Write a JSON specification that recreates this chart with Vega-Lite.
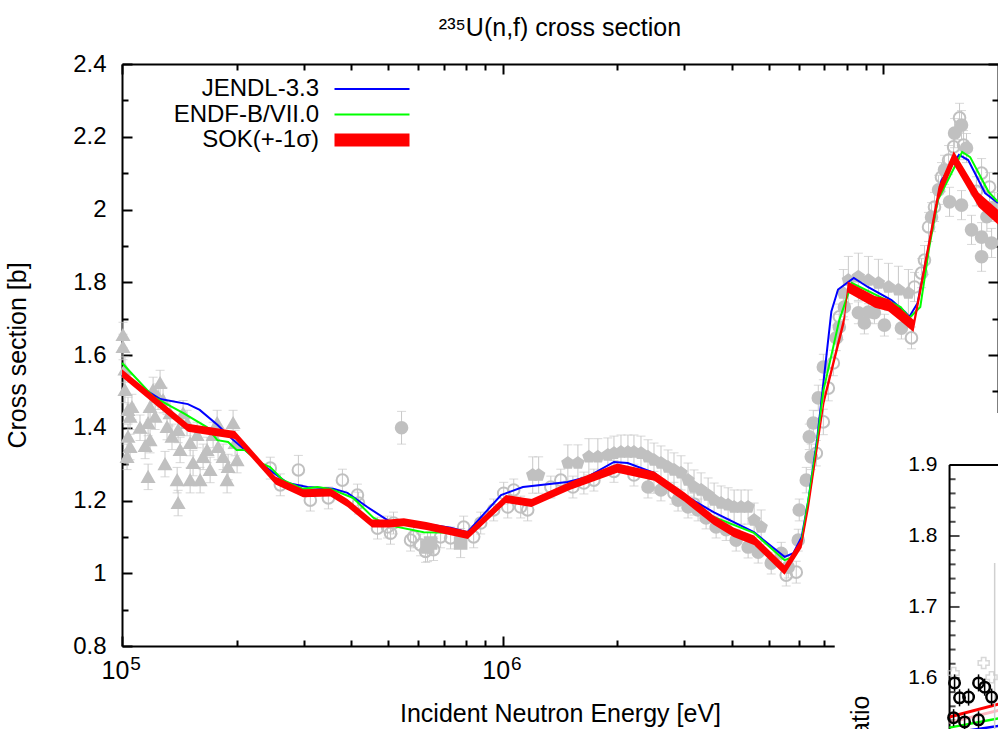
{
"$schema": "https://vega.github.io/schema/vega-lite/v6.json",
"width": 876, "height": 582,
"autosize": {"type": "none"},
"padding": {"left": 122, "top": 64, "right": 0, "bottom": 83},
"background": "white",
"title": {"text": "²³⁵U(n,f) cross section", "fontSize": 25, "fontWeight": "normal", "font": "Liberation Sans", "color": "black", "offset": 11, "anchor": "middle"},
"config": {
  "view": {"stroke": null},
  "font": "Liberation Sans",
  "axis": {"domainColor": "black", "domainWidth": 2, "tickColor": "black", "tickWidth": 2, "labelFont": "Liberation Sans", "labelFontSize": 24, "labelColor": "black", "titleFont": "Liberation Sans", "titleFontSize": 25, "titleFontWeight": "normal", "titleColor": "black", "grid": false, "labelFlush": false, "labelOverlap": false}
},
"datasets": {
"exp": [
{"e":1.006e5,"y":1.655,"lo":1.62,"hi":1.69,"g":"tri"},
{"e":1.006e5,"y":1.622,"lo":1.587,"hi":1.657,"g":"tri"},
{"e":1.018e5,"y":1.504,"lo":1.469,"hi":1.539,"g":"tri"},
{"e":1.037e5,"y":1.449,"lo":1.414,"hi":1.484,"g":"tri"},
{"e":1.05e5,"y":1.43,"lo":1.395,"hi":1.465,"g":"tri"},
{"e":1.062e5,"y":1.457,"lo":1.422,"hi":1.492,"g":"tri"},
{"e":1.037e5,"y":1.375,"lo":1.34,"hi":1.41,"g":"tri"},
{"e":1.05e5,"y":1.347,"lo":1.312,"hi":1.382,"g":"tri"},
{"e":1.031e5,"y":1.32,"lo":1.285,"hi":1.355,"g":"tri"},
{"e":1.018e5,"y":1.56,"lo":1.525,"hi":1.595,"g":"tri"},
{"e":1.185e5,"y":1.457,"lo":1.422,"hi":1.492,"g":"tri"},
{"e":1.207e5,"y":1.504,"lo":1.469,"hi":1.539,"g":"tri"},
{"e":1.259e5,"y":1.523,"lo":1.488,"hi":1.558,"g":"tri"},
{"e":1.244e5,"y":1.485,"lo":1.45,"hi":1.52,"g":"tri"},
{"e":1.171e5,"y":1.413,"lo":1.378,"hi":1.448,"g":"tri"},
{"e":1.185e5,"y":1.366,"lo":1.331,"hi":1.401,"g":"tri"},
{"e":1.171e5,"y":1.265,"lo":1.23,"hi":1.3,"g":"tri"},
{"e":1.222e5,"y":1.43,"lo":1.395,"hi":1.465,"g":"tri"},
{"e":1.282e5,"y":1.476,"lo":1.441,"hi":1.511,"g":"tri"},
{"e":1.313e5,"y":1.402,"lo":1.367,"hi":1.437,"g":"tri"},
{"e":1.353e5,"y":1.375,"lo":1.34,"hi":1.41,"g":"tri"},
{"e":1.404e5,"y":1.394,"lo":1.359,"hi":1.429,"g":"tri"},
{"e":1.396e5,"y":1.256,"lo":1.221,"hi":1.291,"g":"tri"},
{"e":1.404e5,"y":1.193,"lo":1.158,"hi":1.228,"g":"tri"},
{"e":1.421e5,"y":1.339,"lo":1.304,"hi":1.374,"g":"tri"},
{"e":1.482e5,"y":1.413,"lo":1.378,"hi":1.448,"g":"tri"},
{"e":1.51e5,"y":1.358,"lo":1.323,"hi":1.393,"g":"tri"},
{"e":1.51e5,"y":1.256,"lo":1.221,"hi":1.291,"g":"tri"},
{"e":1.537e5,"y":1.303,"lo":1.268,"hi":1.338,"g":"tri"},
{"e":1.604e5,"y":1.256,"lo":1.221,"hi":1.291,"g":"tri"},
{"e":1.633e5,"y":1.32,"lo":1.285,"hi":1.355,"g":"tri"},
{"e":1.673e5,"y":1.339,"lo":1.304,"hi":1.374,"g":"tri"},
{"e":1.704e5,"y":1.284,"lo":1.249,"hi":1.319,"g":"tri"},
{"e":1.778e5,"y":1.413,"lo":1.378,"hi":1.448,"g":"tri"},
{"e":1.788e5,"y":1.347,"lo":1.312,"hi":1.382,"g":"tri"},
{"e":1.843e5,"y":1.32,"lo":1.285,"hi":1.355,"g":"tri"},
{"e":1.888e5,"y":1.256,"lo":1.221,"hi":1.291,"g":"tri"},
{"e":1.9e5,"y":1.292,"lo":1.257,"hi":1.327,"g":"tri"},
{"e":1.958e5,"y":1.413,"lo":1.378,"hi":1.448,"g":"tri"},
{"e":1.982e5,"y":1.358,"lo":1.323,"hi":1.393,"g":"tri"},
{"e":2.006e5,"y":1.311,"lo":1.276,"hi":1.346,"g":"tri"},
{"e":1.115e5,"y":1.4,"lo":1.365,"hi":1.435,"g":"tri"},
{"e":1.15e5,"y":1.35,"lo":1.315,"hi":1.385,"g":"tri"},
{"e":1.297e5,"y":1.3,"lo":1.265,"hi":1.335,"g":"tri"},
{"e":1.337e5,"y":1.44,"lo":1.405,"hi":1.475,"g":"tri"},
{"e":1.447e5,"y":1.44,"lo":1.405,"hi":1.475,"g":"tri"},
{"e":1.575e5,"y":1.38,"lo":1.345,"hi":1.415,"g":"tri"},
{"e":1.735e5,"y":1.38,"lo":1.345,"hi":1.415,"g":"tri"},
{"e":2.452e5,"y":1.289,"lo":1.259,"hi":1.319,"g":"open"},
{"e":2.605e5,"y":1.243,"lo":1.213,"hi":1.273,"g":"open"},
{"e":2.906e5,"y":1.284,"lo":1.244,"hi":1.324,"g":"open"},
{"e":3.124e5,"y":1.201,"lo":1.171,"hi":1.231,"g":"open"},
{"e":3.484e5,"y":1.207,"lo":1.177,"hi":1.237,"g":"open"},
{"e":3.793e5,"y":1.256,"lo":1.226,"hi":1.286,"g":"open"},
{"e":4.154e5,"y":1.215,"lo":1.185,"hi":1.245,"g":"open"},
{"e":4.18e5,"y":1.193,"lo":1.163,"hi":1.223,"g":"open"},
{"e":4.69e5,"y":1.124,"lo":1.094,"hi":1.154,"g":"open"},
{"e":4.983e5,"y":1.127,"lo":1.097,"hi":1.157,"g":"open"},
{"e":5.074e5,"y":1.11,"lo":1.08,"hi":1.14,"g":"open"},
{"e":5.167e5,"y":1.138,"lo":1.108,"hi":1.168,"g":"open"},
{"e":5.424e5,"y":1.4,"lo":1.355,"hi":1.445,"g":"circ"},
{"e":5.728e5,"y":1.091,"lo":1.061,"hi":1.121,"g":"open"},
{"e":5.833e5,"y":1.1,"lo":1.07,"hi":1.13,"g":"open"},
{"e":6.085e5,"y":1.078,"lo":1.048,"hi":1.108,"g":"open"},
{"e":6.272e5,"y":1.06,"lo":1.03,"hi":1.09,"g":"open"},
{"e":6.348e5,"y":1.072,"lo":1.032,"hi":1.112,"g":"sq"},
{"e":6.465e5,"y":1.083,"lo":1.053,"hi":1.113,"g":"sq"},
{"e":6.583e5,"y":1.065,"lo":1.035,"hi":1.095,"g":"open"},
{"e":6.869e5,"y":1.1,"lo":1.07,"hi":1.13,"g":"open"},
{"e":7.297e5,"y":1.097,"lo":1.067,"hi":1.127,"g":"open"},
{"e":7.754e5,"y":1.083,"lo":1.043,"hi":1.123,"g":"sq"},
{"e":7.896e5,"y":1.127,"lo":1.097,"hi":1.157,"g":"open"},
{"e":8.389e5,"y":1.1,"lo":1.07,"hi":1.13,"g":"open"},
{"e":8.754e5,"y":1.138,"lo":1.108,"hi":1.168,"g":"open"},
{"e":9.469e5,"y":1.174,"lo":1.144,"hi":1.204,"g":"open"},
{"e":1.006e6,"y":1.22,"lo":1.19,"hi":1.25,"g":"open"},
{"e":1.031e6,"y":1.182,"lo":1.152,"hi":1.212,"g":"open"},
{"e":1.069e6,"y":1.229,"lo":1.199,"hi":1.259,"g":"open"},
{"e":1.115e6,"y":1.182,"lo":1.152,"hi":1.212,"g":"open"},
{"e":1.163e6,"y":1.174,"lo":1.144,"hi":1.204,"g":"open"},
{"e":1.199e6,"y":1.27,"lo":1.22,"hi":1.32,"g":"pent"},
{"e":1.243e6,"y":1.27,"lo":1.22,"hi":1.32,"g":"pent"},
{"e":1.338e6,"y":1.237,"lo":1.207,"hi":1.267,"g":"open"},
{"e":1.421e6,"y":1.256,"lo":1.226,"hi":1.286,"g":"open"},
{"e":1.483e6,"y":1.303,"lo":1.253,"hi":1.353,"g":"pent"},
{"e":1.576e6,"y":1.303,"lo":1.253,"hi":1.353,"g":"pent"},
{"e":1.529e6,"y":1.237,"lo":1.207,"hi":1.267,"g":"open"},
{"e":1.684e6,"y":1.32,"lo":1.27,"hi":1.37,"g":"pent"},
{"e":1.778e6,"y":1.32,"lo":1.27,"hi":1.37,"g":"pent"},
{"e":1.634e6,"y":1.248,"lo":1.218,"hi":1.278,"g":"open"},
{"e":1.736e6,"y":1.256,"lo":1.226,"hi":1.286,"g":"open"},
{"e":1.889e6,"y":1.325,"lo":1.278,"hi":1.372,"g":"pent"},
{"e":1.96e6,"y":1.33,"lo":1.283,"hi":1.377,"g":"pent"},
{"e":2.045e6,"y":1.333,"lo":1.286,"hi":1.38,"g":"pent"},
{"e":2.133e6,"y":1.333,"lo":1.286,"hi":1.38,"g":"pent"},
{"e":2.212e6,"y":1.333,"lo":1.286,"hi":1.38,"g":"pent"},
{"e":2.308e6,"y":1.33,"lo":1.283,"hi":1.377,"g":"pent"},
{"e":2.408e6,"y":1.32,"lo":1.273,"hi":1.367,"g":"pent"},
{"e":2.497e6,"y":1.311,"lo":1.264,"hi":1.358,"g":"pent"},
{"e":2.605e6,"y":1.303,"lo":1.256,"hi":1.35,"g":"pent"},
{"e":2.718e6,"y":1.292,"lo":1.245,"hi":1.339,"g":"pent"},
{"e":2.818e6,"y":1.284,"lo":1.237,"hi":1.331,"g":"pent"},
{"e":2.941e6,"y":1.276,"lo":1.229,"hi":1.323,"g":"pent"},
{"e":3.068e6,"y":1.256,"lo":1.209,"hi":1.303,"g":"pent"},
{"e":3.181e6,"y":1.237,"lo":1.19,"hi":1.284,"g":"pent"},
{"e":3.32e6,"y":1.229,"lo":1.182,"hi":1.276,"g":"pent"},
{"e":3.464e6,"y":1.215,"lo":1.168,"hi":1.262,"g":"pent"},
{"e":3.592e6,"y":1.201,"lo":1.154,"hi":1.248,"g":"pent"},
{"e":3.748e6,"y":1.193,"lo":1.146,"hi":1.24,"g":"pent"},
{"e":3.91e6,"y":1.188,"lo":1.141,"hi":1.235,"g":"pent"},
{"e":4.054e6,"y":1.182,"lo":1.135,"hi":1.229,"g":"pent"},
{"e":4.229e6,"y":1.182,"lo":1.135,"hi":1.229,"g":"pent"},
{"e":4.412e6,"y":1.182,"lo":1.135,"hi":1.229,"g":"pent"},
{"e":4.576e6,"y":1.146,"lo":1.099,"hi":1.193,"g":"pent"},
{"e":4.775e6,"y":1.127,"lo":1.08,"hi":1.174,"g":"pent"},
{"e":2.408e6,"y":1.237,"lo":1.207,"hi":1.267,"g":"circ"},
{"e":2.605e6,"y":1.229,"lo":1.199,"hi":1.259,"g":"circ"},
{"e":2.888e6,"y":1.201,"lo":1.171,"hi":1.231,"g":"circ"},
{"e":3.068e6,"y":1.182,"lo":1.152,"hi":1.212,"g":"circ"},
{"e":3.26e6,"y":1.174,"lo":1.144,"hi":1.204,"g":"circ"},
{"e":3.422e6,"y":1.152,"lo":1.122,"hi":1.182,"g":"circ"},
{"e":3.636e6,"y":1.127,"lo":1.097,"hi":1.157,"g":"circ"},
{"e":3.863e6,"y":1.12,"lo":1.09,"hi":1.15,"g":"circ"},
{"e":4.104e6,"y":1.091,"lo":1.061,"hi":1.121,"g":"circ"},
{"e":4.412e6,"y":1.072,"lo":1.042,"hi":1.102,"g":"circ"},
{"e":4.689e6,"y":1.058,"lo":1.028,"hi":1.088,"g":"circ"},
{"e":5.074e6,"y":1.028,"lo":0.998,"hi":1.058,"g":"circ"},
{"e":5.391e6,"y":1.055,"lo":1.025,"hi":1.085,"g":"circ"},
{"e":5.623e6,"y":1.017,"lo":0.987,"hi":1.047,"g":"circ"},
{"e":5.975e6,"y":1.091,"lo":1.061,"hi":1.121,"g":"circ"},
{"e":6.011e6,"y":1.174,"lo":1.144,"hi":1.204,"g":"circ"},
{"e":5.903e6,"y":1.003,"lo":0.973,"hi":1.033,"g":"open"},
{"e":5.556e6,"y":0.995,"lo":0.965,"hi":1.025,"g":"open"},
{"e":1.96e6,"y":1.28,"lo":1.25,"hi":1.31,"g":"open"},
{"e":2.212e6,"y":1.27,"lo":1.24,"hi":1.3,"g":"open"},
{"e":2.497e6,"y":1.25,"lo":1.22,"hi":1.28,"g":"open"},
{"e":2.818e6,"y":1.22,"lo":1.19,"hi":1.25,"g":"open"},
{"e":3.181e6,"y":1.19,"lo":1.16,"hi":1.22,"g":"open"},
{"e":6.272e6,"y":1.256,"lo":1.221,"hi":1.291,"g":"circ"},
{"e":6.465e6,"y":1.32,"lo":1.285,"hi":1.355,"g":"circ"},
{"e":6.664e6,"y":1.33,"lo":1.295,"hi":1.365,"g":"open"},
{"e":6.387e6,"y":1.375,"lo":1.34,"hi":1.41,"g":"circ"},
{"e":6.544e6,"y":1.413,"lo":1.378,"hi":1.448,"g":"circ"},
{"e":6.953e6,"y":1.416,"lo":1.381,"hi":1.451,"g":"open"},
{"e":6.745e6,"y":1.482,"lo":1.447,"hi":1.517,"g":"circ"},
{"e":7.167e6,"y":1.509,"lo":1.474,"hi":1.544,"g":"open"},
{"e":6.953e6,"y":1.567,"lo":1.532,"hi":1.602,"g":"circ"},
{"e":7.387e6,"y":1.578,"lo":1.543,"hi":1.613,"g":"open"},
{"e":7.522e6,"y":1.647,"lo":1.612,"hi":1.682,"g":"circ"},
{"e":7.66e6,"y":1.677,"lo":1.642,"hi":1.712,"g":"circ"},
{"e":7.66e6,"y":1.705,"lo":1.67,"hi":1.74,"g":"open"},
{"e":7.896e6,"y":1.732,"lo":1.697,"hi":1.767,"g":"circ"},
{"e":7.848e6,"y":1.77,"lo":1.705,"hi":1.835,"g":"pent"},
{"e":8.09e6,"y":1.806,"lo":1.741,"hi":1.871,"g":"pent"},
{"e":8.595e6,"y":1.815,"lo":1.75,"hi":1.88,"g":"pent"},
{"e":9.132e6,"y":1.806,"lo":1.741,"hi":1.871,"g":"pent"},
{"e":9.701e6,"y":1.798,"lo":1.733,"hi":1.863,"g":"pent"},
{"e":1.031e7,"y":1.787,"lo":1.722,"hi":1.852,"g":"pent"},
{"e":1.095e7,"y":1.779,"lo":1.714,"hi":1.844,"g":"pent"},
{"e":1.163e7,"y":1.77,"lo":1.705,"hi":1.835,"g":"pent"},
{"e":1.207e7,"y":1.787,"lo":1.747,"hi":1.827,"g":"open"},
{"e":1.259e7,"y":1.825,"lo":1.785,"hi":1.865,"g":"open"},
{"e":1.282e7,"y":1.861,"lo":1.821,"hi":1.901,"g":"open"},
{"e":8.595e6,"y":1.716,"lo":1.686,"hi":1.746,"g":"circ"},
{"e":8.913e6,"y":1.688,"lo":1.658,"hi":1.718,"g":"circ"},
{"e":9.132e6,"y":1.718,"lo":1.688,"hi":1.748,"g":"circ"},
{"e":9.469e6,"y":1.716,"lo":1.686,"hi":1.746,"g":"circ"},
{"e":1.006e7,"y":1.682,"lo":1.652,"hi":1.712,"g":"circ"},
{"e":1.115e7,"y":1.674,"lo":1.644,"hi":1.704,"g":"circ"},
{"e":1.185e7,"y":1.647,"lo":1.617,"hi":1.677,"g":"open"},
{"e":1.314e7,"y":1.952,"lo":1.912,"hi":1.992,"g":"open"},
{"e":1.338e7,"y":1.979,"lo":1.939,"hi":2.019,"g":"circ"},
{"e":1.362e7,"y":2.007,"lo":1.967,"hi":2.047,"g":"open"},
{"e":1.396e7,"y":2.054,"lo":2.014,"hi":2.094,"g":"circ"},
{"e":1.421e7,"y":2.089,"lo":2.049,"hi":2.129,"g":"open"},
{"e":1.447e7,"y":2.109,"lo":2.069,"hi":2.149,"g":"circ"},
{"e":1.483e7,"y":2.136,"lo":2.096,"hi":2.176,"g":"open"},
{"e":1.529e7,"y":2.172,"lo":2.132,"hi":2.212,"g":"open"},
{"e":1.538e7,"y":2.21,"lo":2.17,"hi":2.25,"g":"circ"},
{"e":1.585e7,"y":2.252,"lo":2.212,"hi":2.292,"g":"open"},
{"e":1.604e7,"y":2.232,"lo":2.192,"hi":2.272,"g":"circ"},
{"e":1.624e7,"y":2.177,"lo":2.137,"hi":2.217,"g":"open"},
{"e":1.653e7,"y":2.169,"lo":2.129,"hi":2.209,"g":"circ"},
{"e":1.492e7,"y":2.021,"lo":1.981,"hi":2.061,"g":"circ"},
{"e":1.604e7,"y":2.012,"lo":1.972,"hi":2.052,"g":"circ"},
{"e":1.704e7,"y":1.944,"lo":1.904,"hi":1.984,"g":"circ"},
{"e":1.811e7,"y":1.924,"lo":1.884,"hi":1.964,"g":"circ"},
{"e":1.811e7,"y":1.87,"lo":1.83,"hi":1.91,"g":"circ"},
{"e":1.924e7,"y":1.908,"lo":1.868,"hi":1.948,"g":"circ"},
{"e":1.9e7,"y":2.062,"lo":2.022,"hi":2.102,"g":"open"},
{"e":1.811e7,"y":2.1,"lo":2.06,"hi":2.14,"g":"open"},
{"e":1.96e7,"y":2.007,"lo":1.967,"hi":2.047,"g":"circ"},
{"e":1.755e7,"y":2.05,"lo":2.01,"hi":2.09,"g":"open"},
{"e":1.87e7,"y":1.98,"lo":1.94,"hi":2.02,"g":"circ"}
],
"lines": [
{"s":"JENDL-3.3","e":1e5,"y":1.545},{"s":"JENDL-3.3","e":1.26e5,"y":1.479},{"s":"JENDL-3.3","e":1.49e5,"y":1.465},{"s":"JENDL-3.3","e":1.6e5,"y":1.449},{"s":"JENDL-3.3","e":1.78e5,"y":1.408},{"s":"JENDL-3.3","e":1.96e5,"y":1.366},{"s":"JENDL-3.3","e":2.31e5,"y":1.303},{"s":"JENDL-3.3","e":2.72e5,"y":1.248},{"s":"JENDL-3.3","e":3.07e5,"y":1.237},{"s":"JENDL-3.3","e":3.59e5,"y":1.232},{"s":"JENDL-3.3","e":3.91e5,"y":1.221},{"s":"JENDL-3.3","e":4.41e5,"y":1.182},{"s":"JENDL-3.3","e":4.98e5,"y":1.146},{"s":"JENDL-3.3","e":5.17e5,"y":1.138},{"s":"JENDL-3.3","e":6.47e5,"y":1.133},{"s":"JENDL-3.3","e":7.3e5,"y":1.125},{"s":"JENDL-3.3","e":8.08e5,"y":1.113},{"s":"JENDL-3.3","e":9.9e5,"y":1.215},{"s":"JENDL-3.3","e":1.13e6,"y":1.237},{"s":"JENDL-3.3","e":1.48e6,"y":1.251},{"s":"JENDL-3.3","e":1.67e6,"y":1.265},{"s":"JENDL-3.3","e":1.96e6,"y":1.306},{"s":"JENDL-3.3","e":2.13e6,"y":1.303},{"s":"JENDL-3.3","e":2.5e6,"y":1.276},{"s":"JENDL-3.3","e":2.94e6,"y":1.22},{"s":"JENDL-3.3","e":3.58e6,"y":1.168},{"s":"JENDL-3.3","e":4.57e6,"y":1.113},{"s":"JENDL-3.3","e":5.5e6,"y":1.045},{"s":"JENDL-3.3","e":5.8e6,"y":1.055},{"s":"JENDL-3.3","e":6.1e6,"y":1.1},{"s":"JENDL-3.3","e":6.35e6,"y":1.2},{"s":"JENDL-3.3","e":6.7e6,"y":1.37},{"s":"JENDL-3.3","e":6.95e6,"y":1.52},{"s":"JENDL-3.3","e":7.3e6,"y":1.72},{"s":"JENDL-3.3","e":7.6e6,"y":1.78},{"s":"JENDL-3.3","e":8.36e6,"y":1.812},{"s":"JENDL-3.3","e":9.1e6,"y":1.787},{"s":"JENDL-3.3","e":1.05e7,"y":1.751},{"s":"JENDL-3.3","e":1.14e7,"y":1.718},{"s":"JENDL-3.3","e":1.17e7,"y":1.705},{"s":"JENDL-3.3","e":1.23e7,"y":1.743},{"s":"JENDL-3.3","e":1.33e7,"y":1.924},{"s":"JENDL-3.3","e":1.42e7,"y":2.08},{"s":"JENDL-3.3","e":1.58e7,"y":2.15},{"s":"JENDL-3.3","e":1.67e7,"y":2.136},{"s":"JENDL-3.3","e":1.85e7,"y":2.045},{"s":"JENDL-3.3","e":2e7,"y":2.018},
{"s":"ENDF-B/VII.0","e":1e5,"y":1.578},{"s":"ENDF-B/VII.0","e":1.21e5,"y":1.485},{"s":"ENDF-B/VII.0","e":1.45e5,"y":1.44},{"s":"ENDF-B/VII.0","e":1.67e5,"y":1.402},{"s":"ENDF-B/VII.0","e":1.78e5,"y":1.366},{"s":"ENDF-B/VII.0","e":1.9e5,"y":1.361},{"s":"ENDF-B/VII.0","e":2e5,"y":1.339},{"s":"ENDF-B/VII.0","e":2.1e5,"y":1.339},{"s":"ENDF-B/VII.0","e":2.31e5,"y":1.303},{"s":"ENDF-B/VII.0","e":2.45e5,"y":1.292},{"s":"ENDF-B/VII.0","e":2.65e5,"y":1.256},{"s":"ENDF-B/VII.0","e":2.99e5,"y":1.232},{"s":"ENDF-B/VII.0","e":3.26e5,"y":1.237},{"s":"ENDF-B/VII.0","e":3.53e5,"y":1.232},{"s":"ENDF-B/VII.0","e":4.05e5,"y":1.207},{"s":"ENDF-B/VII.0","e":4.58e5,"y":1.152},{"s":"ENDF-B/VII.0","e":4.98e5,"y":1.133},{"s":"ENDF-B/VII.0","e":6.2e5,"y":1.113},{"s":"ENDF-B/VII.0","e":8.1e5,"y":1.111},{"s":"ENDF-B/VII.0","e":1e6,"y":1.196},{"s":"ENDF-B/VII.0","e":1.21e6,"y":1.201},{"s":"ENDF-B/VII.0","e":1.6e6,"y":1.248},{"s":"ENDF-B/VII.0","e":2e6,"y":1.284},{"s":"ENDF-B/VII.0","e":2.5e6,"y":1.265},{"s":"ENDF-B/VII.0","e":2.94e6,"y":1.21},{"s":"ENDF-B/VII.0","e":3.58e6,"y":1.155},{"s":"ENDF-B/VII.0","e":4.57e6,"y":1.111},{"s":"ENDF-B/VII.0","e":5.5e6,"y":1.036},{"s":"ENDF-B/VII.0","e":5.8e6,"y":1.045},{"s":"ENDF-B/VII.0","e":6.1e6,"y":1.09},{"s":"ENDF-B/VII.0","e":6.35e6,"y":1.2},{"s":"ENDF-B/VII.0","e":6.7e6,"y":1.36},{"s":"ENDF-B/VII.0","e":6.95e6,"y":1.5},{"s":"ENDF-B/VII.0","e":7.66e6,"y":1.696},{"s":"ENDF-B/VII.0","e":8.26e6,"y":1.798},{"s":"ENDF-B/VII.0","e":9.8e6,"y":1.76},{"s":"ENDF-B/VII.0","e":1.11e7,"y":1.732},{"s":"ENDF-B/VII.0","e":1.17e7,"y":1.702},{"s":"ENDF-B/VII.0","e":1.25e7,"y":1.732},{"s":"ENDF-B/VII.0","e":1.32e7,"y":1.897},{"s":"ENDF-B/VII.0","e":1.39e7,"y":2.026},{"s":"ENDF-B/VII.0","e":1.61e7,"y":2.158},{"s":"ENDF-B/VII.0","e":1.69e7,"y":2.144},{"s":"ENDF-B/VII.0","e":1.89e7,"y":2.048},{"s":"ENDF-B/VII.0","e":2e7,"y":2.021}
],
"sok": [
{"e":1e5,"lo":1.539,"hi":1.561},{"e":1.49e5,"lo":1.389,"hi":1.411},{"e":1.98e5,"lo":1.369,"hi":1.391},{"e":2.53e5,"lo":1.244,"hi":1.266},{"e":2.99e5,"lo":1.209,"hi":1.231},{"e":3.53e5,"lo":1.211,"hi":1.233},{"e":3.91e5,"lo":1.182,"hi":1.204},{"e":4.54e5,"lo":1.126,"hi":1.148},{"e":5.01e5,"lo":1.126,"hi":1.148},{"e":5.5e5,"lo":1.129,"hi":1.151},{"e":6.3e5,"lo":1.119,"hi":1.141},{"e":8.1e5,"lo":1.094,"hi":1.116},{"e":1.02e6,"lo":1.193,"hi":1.215},{"e":1.19e6,"lo":1.182,"hi":1.204},{"e":1.5e6,"lo":1.229,"hi":1.251},{"e":2e6,"lo":1.276,"hi":1.302},{"e":2.5e6,"lo":1.254,"hi":1.28},{"e":3e6,"lo":1.197,"hi":1.223},{"e":3.58e6,"lo":1.133,"hi":1.159},{"e":4.04e6,"lo":1.1,"hi":1.126},{"e":4.57e6,"lo":1.078,"hi":1.104},{"e":5.5e6,"lo":0.996,"hi":1.022},{"e":6.1e6,"lo":1.07,"hi":1.096},{"e":6.37e6,"lo":1.177,"hi":1.203},{"e":7e6,"lo":1.467,"hi":1.493},{"e":7.9e6,"lo":1.686,"hi":1.714},{"e":8.06e6,"lo":1.772,"hi":1.802},{"e":9.5e6,"lo":1.73,"hi":1.762},{"e":1.03e7,"lo":1.72,"hi":1.754},{"e":1.11e7,"lo":1.693,"hi":1.727},{"e":1.2e7,"lo":1.663,"hi":1.697},{"e":1.396e7,"lo":2.027,"hi":2.063},{"e":1.53e7,"lo":2.124,"hi":2.16},{"e":1.78e7,"lo":2.006,"hi":2.046},{"e":2e7,"lo":1.959,"hi":1.999}
],
"insetTicks": [
{"v":1.9,"k":"M"},{"v":1.88,"k":"m"},{"v":1.86,"k":"m"},{"v":1.84,"k":"m"},{"v":1.82,"k":"m"},{"v":1.8,"k":"M"},{"v":1.78,"k":"m"},{"v":1.76,"k":"m"},{"v":1.74,"k":"m"},{"v":1.72,"k":"m"},{"v":1.7,"k":"M"},{"v":1.68,"k":"m"},{"v":1.66,"k":"m"},{"v":1.64,"k":"m"},{"v":1.62,"k":"m"},{"v":1.6,"k":"M"},{"v":1.58,"k":"m"},{"v":1.56,"k":"m"},{"v":1.54,"k":"m"},{"v":1.52,"k":"m"}
],
"insetLines": [
{"s":"SOK","e":1.49e7,"v":1.545},{"s":"SOK","e":2.1e7,"v":1.566},
{"s":"pink","e":1.49e7,"v":1.537},{"s":"pink","e":2.1e7,"v":1.557},
{"s":"ENDF","e":1.49e7,"v":1.53},{"s":"ENDF","e":2.1e7,"v":1.545},
{"s":"JENDL","e":1.49e7,"v":1.522},{"s":"JENDL","e":2.1e7,"v":1.534}
],
"insetPts": [
{"e":1.538e7,"v":1.593,"lo":1.581,"hi":1.605},{"e":1.778e7,"v":1.593,"lo":1.581,"hi":1.605},{"e":1.845e7,"v":1.587,"lo":1.575,"hi":1.599},{"e":1.924e7,"v":1.573,"lo":1.561,"hi":1.585},{"e":1.585e7,"v":1.572,"lo":1.56,"hi":1.584},{"e":1.674e7,"v":1.573,"lo":1.561,"hi":1.585},{"e":1.529e7,"v":1.544,"lo":1.532,"hi":1.556},{"e":1.778e7,"v":1.541,"lo":1.529,"hi":1.553},{"e":1.634e7,"v":1.538,"lo":1.526,"hi":1.55}
],
"insetCross": [
{"e":1.834e7,"v":1.621},{"e":1.924e7,"v":1.601},{"e":1.529e7,"v":1.607}
]
},
"layer": [
{
 "layer": [
  {"data": {"name": "exp"},
   "mark": {"type": "rule", "color": "#c8c8c8", "strokeWidth": 1},
   "encoding": {
    "x": {"field": "e", "type": "quantitative", "scale": {"type": "log", "domain": [100000, 20000000], "nice": false},
      "axis": {"orient": "bottom", "values": [100000,200000,300000,400000,500000,600000,700000,800000,900000,1000000,2000000,3000000,4000000,5000000,6000000,7000000,8000000,9000000,10000000],
        "labelExpr": "abs(log(datum.value)/LN10 - round(log(datum.value)/LN10)) < 0.001 ? '10' : ''",
        "labelFontSize": 25, "labelOffset": -7,
        "tickSize": {"condition": {"test": "abs(log(datum.value)/LN10 - round(log(datum.value)/LN10)) < 0.001", "value": -10}, "value": -6},
        "labelPadding": 22, "title": "Incident Neutron Energy [eV]", "titlePadding": 14}},
    "y": {"field": "lo", "type": "quantitative", "scale": {"domain": [0.8, 2.4], "nice": false, "zero": false},
      "axis": {"orient": "left", "values": [0.8,0.9,1,1.1,1.2,1.3,1.4,1.5,1.6,1.7,1.8,1.9,2,2.1,2.2,2.3,2.4],
        "labelExpr": "round(datum.value*10) % 2 == 0 ? format(datum.value, '~g') : ''",
        "tickSize": {"condition": {"test": "round(datum.value*10) % 2 == 0", "value": -10}, "value": -6},
        "labelPadding": 26, "title": "Cross section [b]", "titlePadding": 42}},
    "y2": {"field": "hi"}
   }},
  {"data": {"name": "exp"},
   "mark": {"type": "tick", "orient": "horizontal", "size": 9, "thickness": 1, "color": "#c8c8c8"},
   "encoding": {"x": {"field": "e", "type": "quantitative", "axis": null}, "y": {"field": "hi", "type": "quantitative", "axis": null}}},
  {"data": {"name": "exp"},
   "mark": {"type": "tick", "orient": "horizontal", "size": 9, "thickness": 1, "color": "#c8c8c8"},
   "encoding": {"x": {"field": "e", "type": "quantitative", "axis": null}, "y": {"field": "lo", "type": "quantitative", "axis": null}}},
  {"data": {"name": "exp"},
   "mark": {"type": "point", "size": 135, "strokeWidth": 2, "opacity": 1},
   "encoding": {
    "x": {"field": "e", "type": "quantitative", "axis": null},
    "y": {"field": "y", "type": "quantitative", "axis": null},
    "shape": {"field": "g", "type": "nominal", "legend": null, "scale": {"domain": ["tri","circ","open","pent","sq"], "range": ["triangle-up","circle","circle","M0,-1L0.951,-0.309L0.588,0.809L-0.588,0.809L-0.951,-0.309Z","square"]}},
    "fill": {"condition": {"test": "datum.g === 'open'", "value": "transparent"}, "value": "#c0c0c0"},
    "stroke": {"value": "#c0c0c0"}
   }},
  {"data": {"name": "lines"},
   "mark": {"type": "line", "strokeWidth": 2},
   "encoding": {
    "x": {"field": "e", "type": "quantitative", "axis": {"orient": "top", "values": [100000,200000,300000,400000,500000,600000,700000,800000,900000,1000000,2000000,3000000,4000000,5000000,6000000,7000000,8000000,9000000,10000000], "labels": false, "title": null,
        "tickSize": {"condition": {"test": "abs(log(datum.value)/LN10 - round(log(datum.value)/LN10)) < 0.001", "value": -10}, "value": -6}}},
    "y": {"field": "y", "type": "quantitative", "axis": {"orient": "right", "values": [0.8,0.9,1,1.1,1.2,1.3,1.4,1.5,1.6,1.7,1.8,1.9,2,2.1,2.2,2.3,2.4], "labels": false, "title": null,
        "tickSize": {"condition": {"test": "round(datum.value*10) % 2 == 0", "value": -10}, "value": -6}}},
    "color": {"field": "s", "type": "nominal",
      "scale": {"domain": ["JENDL-3.3", "ENDF-B/VII.0", "SOK(+-1σ)"], "range": ["#0000ff", "#00ff00", "#ff0000"]},
      "legend": {"orient": "none", "legendX": 238, "legendY": 13, "title": null, "padding": 0,
        "labelFontSize": 24, "labelFont": "Liberation Sans", "labelColor": "black", "labelAlign": "right", "labelOffset": -65,
        "symbolType": "M-6.25,-0.17H6.25V0.17H-6.25Z", "symbolSize": 144, "symbolOffset": 0, "symbolStrokeWidth": 0, "rowPadding": 1.5,
        "encode": {"symbols": {"update": {
          "shape": {"signal": "datum.value === 'SOK(+-1σ)' ? 'M-6.25,-1.08H6.25V1.08H-6.25Z' : 'M-6.25,-0.17H6.25V0.17H-6.25Z'"},
          "fill": {"scale": "color", "field": "value"}, "stroke": {"value": "transparent"}, "strokeWidth": {"value": 0}, "opacity": {"value": 1}}}}}}
   }},
  {"data": {"name": "sok"},
   "mark": {"type": "area", "color": "#ff0000", "opacity": 1},
   "encoding": {
    "x": {"field": "e", "type": "quantitative", "axis": {"orient": "bottom", "values": [100000, 1000000, 10000000], "labelExpr": "format(round(log(datum.value)/LN10), 'd')", "labelFontSize": 19, "labelOffset": 13, "labelPadding": 8, "ticks": false, "domain": false, "title": null}},
    "y": {"field": "lo", "type": "quantitative", "axis": null}, "y2": {"field": "hi"}}},
  {"data": {"values": [{}]},
   "mark": {"type": "rect", "color": "white", "opacity": 1, "clip": false},
   "encoding": {"x": {"datum": 7450000, "type": "quantitative", "axis": null}, "x2": {"datum": 1000000000}, "y": {"datum": 1.4406, "type": "quantitative", "axis": null}, "y2": {"datum": 0.3}}}
 ],
 "resolve": {"axis": {"x": "independent", "y": "independent"}}
},
{
 "layer": [
  {"data": {"values": [{}]},
   "mark": {"type": "rule", "color": "black", "strokeWidth": 2, "clip": false},
   "encoding": {"x": {"datum": 14920000, "type": "quantitative", "axis": null}, "y": {"datum": 1.9, "type": "quantitative", "scale": {"domain": [1.645, 2.465], "nice": false, "zero": false}, "axis": null}, "y2": {"datum": 1.2}}},
  {"data": {"values": [{}]},
   "mark": {"type": "rule", "color": "black", "strokeWidth": 2, "clip": false},
   "encoding": {"x": {"datum": 14920000, "type": "quantitative", "axis": null}, "x2": {"datum": 100000000}, "y": {"datum": 1.9, "type": "quantitative", "axis": null}}},
  {"data": {"name": "insetTicks"}, "transform": [{"filter": "datum.k === 'M'"}],
   "mark": {"type": "tick", "orient": "horizontal", "size": 10, "thickness": 2, "xOffset": 5, "color": "black", "clip": false},
   "encoding": {"x": {"datum": 14920000, "type": "quantitative", "axis": null}, "y": {"field": "v", "type": "quantitative", "axis": null}}},
  {"data": {"name": "insetTicks"}, "transform": [{"filter": "datum.k === 'm'"}],
   "mark": {"type": "tick", "orient": "horizontal", "size": 6, "thickness": 2, "xOffset": 3, "color": "black", "clip": false},
   "encoding": {"x": {"datum": 14920000, "type": "quantitative", "axis": null}, "y": {"field": "v", "type": "quantitative", "axis": null}}},
  {"data": {"name": "insetTicks"}, "transform": [{"filter": "datum.k === 'M'"}],
   "mark": {"type": "text", "align": "right", "baseline": "middle", "dx": -12, "fontSize": 21, "font": "Liberation Sans", "color": "black", "clip": false},
   "encoding": {"x": {"datum": 14920000, "type": "quantitative", "axis": null}, "y": {"field": "v", "type": "quantitative", "axis": null}, "text": {"field": "v", "type": "quantitative", "format": ".1f"}}},
  {"data": {"values": [{}]},
   "mark": {"type": "text", "text": "Ratio", "angle": 270, "align": "center", "baseline": "alphabetic", "fontSize": 25, "font": "Liberation Sans", "color": "black", "clip": false},
   "encoding": {"x": {"datum": 9180000, "type": "quantitative", "axis": null}, "y": {"datum": 1.534, "type": "quantitative", "axis": null}}},
  {"data": {"name": "insetLines"}, "transform": [{"filter": "datum.s === 'JENDL'"}],
   "mark": {"type": "line", "color": "#0000ff", "strokeWidth": 2.5, "clip": false},
   "encoding": {"x": {"field": "e", "type": "quantitative", "axis": null}, "y": {"field": "v", "type": "quantitative", "axis": null}}},
  {"data": {"name": "insetLines"}, "transform": [{"filter": "datum.s === 'ENDF'"}],
   "mark": {"type": "line", "color": "#00ff00", "strokeWidth": 2.5, "clip": false},
   "encoding": {"x": {"field": "e", "type": "quantitative", "axis": null}, "y": {"field": "v", "type": "quantitative", "axis": null}}},
  {"data": {"name": "insetLines"}, "transform": [{"filter": "datum.s === 'pink'"}],
   "mark": {"type": "line", "color": "#ffb6c1", "strokeWidth": 3, "clip": false},
   "encoding": {"x": {"field": "e", "type": "quantitative", "axis": null}, "y": {"field": "v", "type": "quantitative", "axis": null}}},
  {"data": {"name": "insetLines"}, "transform": [{"filter": "datum.s === 'SOK'"}],
   "mark": {"type": "line", "color": "#ff0000", "strokeWidth": 3, "clip": false},
   "encoding": {"x": {"field": "e", "type": "quantitative", "axis": null}, "y": {"field": "v", "type": "quantitative", "axis": null}}},
  {"data": {"values": [{}]},
   "mark": {"type": "rule", "color": "#d0d0d0", "strokeWidth": 1.5, "clip": false},
   "encoding": {"x": {"datum": 19600000, "type": "quantitative", "axis": null}, "y": {"datum": 1.762, "type": "quantitative", "axis": null}, "y2": {"datum": 1.4}}},
  {"data": {"name": "insetCross"},
   "mark": {"type": "point", "shape": "cross", "size": 120, "color": "#c8c8c8", "filled": false, "strokeWidth": 1.5, "clip": false},
   "encoding": {"x": {"field": "e", "type": "quantitative", "axis": null}, "y": {"field": "v", "type": "quantitative", "axis": null}}},
  {"data": {"name": "insetPts"},
   "mark": {"type": "rule", "color": "black", "strokeWidth": 1.5, "clip": false},
   "encoding": {"x": {"field": "e", "type": "quantitative", "axis": null}, "y": {"field": "lo", "type": "quantitative", "axis": null}, "y2": {"field": "hi"}}},
  {"data": {"name": "insetPts"},
   "mark": {"type": "point", "shape": "circle", "size": 110, "color": "black", "filled": false, "strokeWidth": 2.5, "opacity": 1, "clip": false},
   "encoding": {"x": {"field": "e", "type": "quantitative", "axis": null}, "y": {"field": "v", "type": "quantitative", "axis": null}}}
 ]
}
],
"resolve": {"scale": {"y": "independent"}, "axis": {"x": "independent", "y": "independent"}}
}
